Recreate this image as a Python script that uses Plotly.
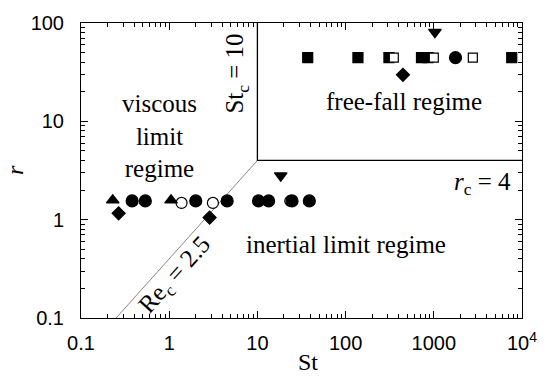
import plotly.graph_objects as go

# Data
circ_fill_st = [0.38, 0.536, 2.0, 4.54, 10.3, 13.4, 24.7, 38.8, 1762]
circ_fill_r = [1.55, 1.55, 1.55, 1.55, 1.55, 1.55, 1.55, 1.55, 44.4]
circ_open_st = [1.38, 3.13, 23.6]
circ_open_r = [1.48, 1.48, 1.55]
tri_up_st = [0.229, 1.05]
tri_up_r = [1.58, 1.58]
tri_dn_st = [18.4, 1030]
tri_dn_r = [2.8, 80.7]
diam_st = [0.267, 2.87, 447]
diam_r = [1.16, 1.05, 29.7]
sq_fill_st = [37.2, 138, 310, 725, 859, 7650]
sq_fill_r = [44.4, 44.4, 44.4, 44.4, 44.4, 44.4]
sq_open_st = [352, 1000, 2770]
sq_open_r = [44.4, 44.4, 44.4]

# regime boundaries
re_line_st = [0.25, 10]
re_line_r = [0.1, 4]
st_c_st = [10, 10, 1e4]
st_c_r = [100, 4, 4]

x_tickvals = [0.1, 1, 10, 100, 1000, 10000]
x_ticktext = ["0.1", "1", "10", "100", "1000", "10<sup>4</sup>"]
y_tickvals = [0.1, 1, 10, 100]
y_ticktext = ["0.1", "1", "10", "100"]

fig = go.Figure()
fig.add_trace(go.Scatter(x=re_line_st, y=re_line_r, mode="lines",
                         line=dict(color="#888888", width=1), showlegend=False))
fig.add_trace(go.Scatter(x=st_c_st, y=st_c_r, mode="lines",
                         line=dict(color="black", width=1.3), showlegend=False))

def add(xs, ys, symbol, size, fill):
    fig.add_trace(go.Scatter(x=xs, y=ys, mode="markers", showlegend=False,
                             marker=dict(symbol=symbol, size=size, color=fill,
                                         line=dict(color="black", width=1.2))))

add(circ_open_st, circ_open_r, "circle", 11, "white")
add(circ_fill_st, circ_fill_r, "circle", 12, "black")
add(tri_up_st, tri_up_r, "triangle-up", 11, "black")
add(tri_dn_st, tri_dn_r, "triangle-down", 11, "black")
add(diam_st, diam_r, "diamond", 10, "black")
add(sq_fill_st, sq_fill_r, "square", 10, "black")
add(sq_open_st, sq_open_r, "square", 9, "white")

serif = "Liberation Serif, Times New Roman, serif"
sans = "Liberation Sans, Arial, sans-serif"

tick_axis = dict(type="log", showgrid=False, zeroline=False, showline=True,
                 linecolor="black", linewidth=1.3, mirror="allticks",
                 ticks="inside", tickcolor="black", ticklen=7, tickwidth=1.2,
                 tickmode="linear", tick0=0, dtick=1, showticklabels=False,
                 minor=dict(ticks="inside", ticklen=4, tickwidth=1, dtick="D1",
                            tickcolor="black", showgrid=False))
label_axis = dict(type="log", showgrid=False, zeroline=False, showline=False,
                  ticks="outside", tickcolor="rgba(0,0,0,0)", tickmode="array",
                  tickfont=dict(family=sans, size=20, color="black"))

fig.update_layout(
    xaxis=dict(range=[-1, 4], **tick_axis),
    yaxis=dict(range=[-1, 2], **tick_axis),
    xaxis2=dict(range=[-1, 4], tickvals=x_tickvals, ticktext=x_ticktext, ticklen=7,
                overlaying="x", anchor="y", side="bottom", **label_axis),
    yaxis2=dict(range=[-1, 2], tickvals=y_tickvals, ticktext=y_ticktext, ticklen=12,
                overlaying="y", anchor="x", side="left", **label_axis),
)
# invisible trace to activate the tick-label overlay axes
fig.add_trace(go.Scatter(x=[x_tickvals[1]], y=[y_tickvals[1]], xaxis="x2", yaxis="y2",
                         mode="markers", marker=dict(opacity=0), showlegend=False,
                         hoverinfo="skip"))

W, H = 549, 377
L, R, T, B = 81, 17, 18, 59
pw, ph = W - L - R, H - T - B

ann = [
    dict(x=161, y=133, text="viscous<br>limit<br>regime", fs=25),
    dict(x=411, y=98, text="free-fall regime", fs=25),
    dict(x=352, y=243, text="inertial limit regime", fs=25),
    dict(x=240, y=69, text="St<sub>c</sub> = 10", fs=25, angle=-90),
    dict(x=523, y=181, text="<i>r</i><sub>c</sub> = 4", fs=25, xanchor="right"),
    dict(x=178, y=275, text="Re<sub>c</sub> = 2.5", fs=25, angle=-48),
    dict(x=313, y=363, text="St", fs=24),
    dict(x=13, y=168, text="<i>r</i>", fs=24, angle=-90),
]
for a in ann:
    fig.add_annotation(x=(a["x"] - L) / pw, y=1 - (a["y"] - T) / ph,
                       xref="paper", yref="paper",
                       xanchor=a.get("xanchor", "center"), yanchor="middle",
                       showarrow=False, text=a["text"], textangle=a.get("angle", 0),
                       font=dict(family=serif, size=a["fs"], color="black"))

fig.update_layout(width=W, height=H, margin=dict(l=L, r=R, t=T, b=B),
                  plot_bgcolor="white", paper_bgcolor="white")

fig.write_html("out.html")
